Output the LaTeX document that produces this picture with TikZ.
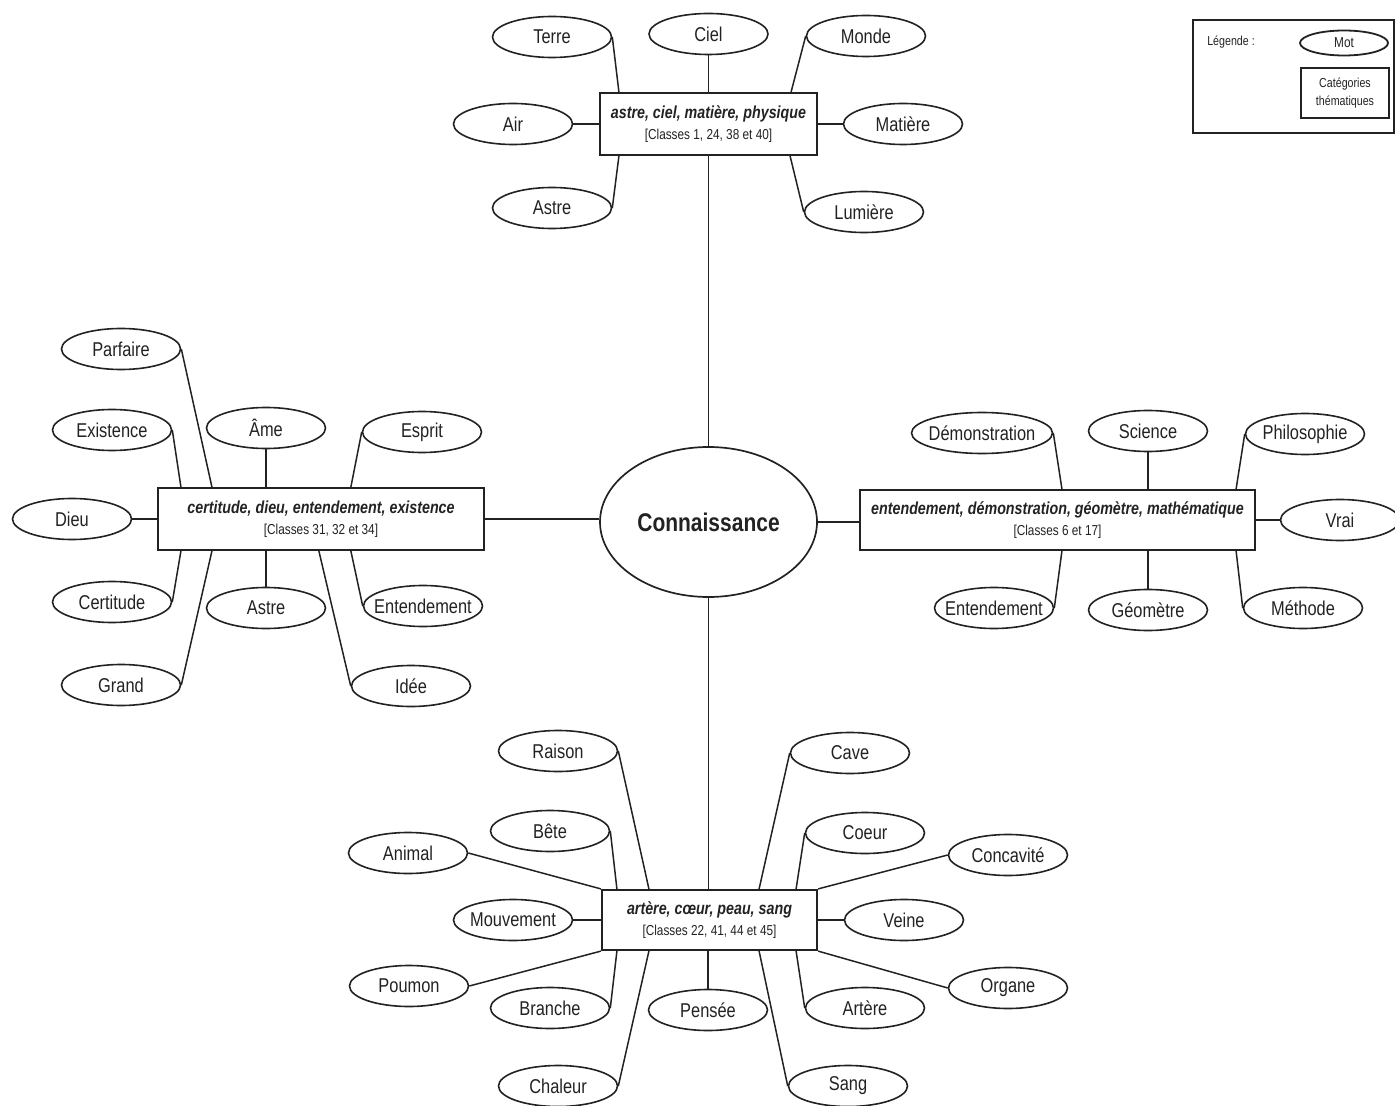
\documentclass[tikz,border=0pt]{standalone}
\usepackage{fontspec}
\setmainfont{Liberation Sans}[FakeStretch=0.82]
\usetikzlibrary{shapes.geometric,calc}
\definecolor{ink}{RGB}{34,34,34}
\newcommand\ctr[1]{\makebox[0pt]{#1}}
\newcommand\cl[1]{{\fontsize{7.2}{9}\selectfont\mdseries\upshape #1}}
\newcommand\kw[1]{{\bfseries\itshape #1}}
\begin{document}
\begin{tikzpicture}[x=0.5pt,y=-0.5pt,
  word/.style={draw=ink, ellipse, line width=0.8pt, minimum width=59.5pt, minimum height=20.5pt, inner sep=0pt, font=\fontsize{10}{12}\selectfont, text=ink},
  cat/.style={draw=ink, rectangle, line width=1.1pt, inner sep=0pt, align=center, font=\fontsize{8.7}{10.5}\selectfont, text=ink},
  link/.style={draw=ink, line width=0.75pt},
  legtext/.style={font=\fontsize{6.5}{9}\selectfont, text=ink, inner sep=0pt}
  ]
\useasboundingbox (0,0) rectangle (1395,1106);

% central
\node[draw=ink, ellipse, line width=0.85pt, minimum width=108.5pt, minimum height=75pt, inner sep=0pt,
      font=\fontsize{12.8}{14}\selectfont\bfseries, text=ink] (conn) at (708.5,522) {Connaissance};

% category boxes
\node[cat, minimum width=108.5pt, minimum height=31pt] (tb) at (708.5,124) {\kw{astre, ciel, matière, physique}\\\cl{[Classes 1, 24, 38 et 40]}};
\node[cat, minimum width=163pt, minimum height=31pt] (lb) at (321,519) {\kw{certitude, dieu, entendement, existence}\\\cl{[Classes 31, 32 et 34]}};
\node[cat, minimum width=197.5pt, minimum height=30pt] (rb) at (1057.5,520) {\kw{entendement, démonstration, géomètre, mathématique}\\\cl{[Classes 6 et 17]}};
\node[cat, minimum width=107.5pt, minimum height=30pt] (bb) at (709.5,920) {\kw{artère, cœur, peau, sang}\\\cl{[Classes 22, 41, 44 et 45]}};

% top words
\node[word] (terre) at (552,37) {\ctr{Terre}};
\node[word] (ciel) at (708.5,34) {\ctr{Ciel}};
\node[word] (monde) at (866,36) {\ctr{Monde}};
\node[word] (air) at (513,124) {\ctr{Air}};
\node[word] (matiere) at (903,124) {\ctr{Matière}};
\node[word] (astreT) at (552,208) {\ctr{Astre}};
\node[word] (lumiere) at (864,212) {\ctr{Lumière}};

% left words
\node[word] (parfaire) at (121,349) {\ctr{Parfaire}};
\node[word] (existence) at (112,430) {\ctr{Existence}};
\node[word] (ame) at (266,428) {\ctr{Âme}};
\node[word] (esprit) at (422,432) {\ctr{Esprit}};
\node[word] (dieu) at (72,519) {\ctr{Dieu}};
\node[word] (certitude) at (112,602) {\ctr{Certitude}};
\node[word] (astreL) at (266,608) {\ctr{Astre}};
\node[word] (entL) at (423,606) {\ctr{Entendement}};
\node[word] (grand) at (121,685) {\ctr{Grand}};
\node[word] (idee) at (411,686) {\ctr{Idée}};

% right words
\node[word, minimum width=70.5pt] (demo) at (982,433) {\ctr{Démonstration}};
\node[word] (science) at (1148,431) {\ctr{Science}};
\node[word] (philo) at (1305,434) {\ctr{Philosophie}};
\node[word] (vrai) at (1340,520) {\ctr{Vrai}};
\node[word] (entR) at (994,608) {\ctr{Entendement}};
\node[word] (geo) at (1148,610) {\ctr{Géomètre}};
\node[word] (methode) at (1303,608) {\ctr{Méthode}};

% bottom words
\node[word] (raison) at (558,751) {\ctr{Raison}};
\node[word] (bete) at (550,831) {\ctr{Bête}};
\node[word] (animal) at (408,853) {\ctr{Animal}};
\node[word] (mouv) at (513,920) {\ctr{Mouvement}};
\node[word] (poumon) at (409,986) {\ctr{Poumon}};
\node[word] (branche) at (550,1008) {\ctr{Branche}};
\node[word] (chaleur) at (558,1086) {\ctr{Chaleur}};
\node[word] (pensee) at (708,1010) {\ctr{Pensée}};
\node[word] (cave) at (850,753) {\ctr{Cave}};
\node[word] (coeur) at (865,833) {\ctr{Coeur}};
\node[word] (concav) at (1008,855) {\ctr{Concavité}};
\node[word] (veine) at (904,920) {\ctr{Veine}};
\node[word] (organe) at (1008,988) {\ctr{Organe}};
\node[word] (artere) at (865,1008) {\ctr{Artère}};
\node[word] (sang) at (848,1086) {\ctr{Sang}};

% legend
\node[draw=ink, line width=1.1pt, minimum width=100.5pt, minimum height=56.5pt, inner sep=0pt] (leg) at (1293.5,76.5) {};
\node[legtext] (legt) at (1231,42) {Légende :};
\node[draw=ink, ellipse, line width=0.9pt, minimum width=44pt, minimum height=12.5pt, legtext, font=\fontsize{7.2}{9}\selectfont] (legmot) at (1344,43) {Mot};
\node[draw=ink, line width=1pt, minimum width=44pt, minimum height=25pt, align=center, legtext] (legcat) at (1345,93) {Catégories\\thématiques};

% central connectors
\draw[link] (tb.south) -- (conn.north);
\draw[link] (conn.south) -- (conn.south |- bb.north);
\draw[link] (lb.east) -- (lb.east -| conn.west);
\draw[link] (conn.east) -- (conn.east -| rb.west);

% top connectors
\draw[link] (terre.east) -- ($(tb.north west)+(20,0)$);
\draw[link] (ciel.south) -- (tb.north);
\draw[link] (monde.west) -- ($(tb.north east)+(-27,0)$);
\draw[link] (air.east) -- (tb.west);
\draw[link] (tb.east) -- (matiere.west);
\draw[link] (astreT.east) -- ($(tb.south west)+(20,0)$);
\draw[link] (lumiere.west) -- ($(tb.south east)+(-28,0)$);

% left connectors
\draw[link] (parfaire.east) -- ($(lb.north west)+(55,0)$);
\draw[link] (existence.east) -- ($(lb.north west)+(24,0)$);
\draw[link] (ame.south) -- (ame.south |- lb.north);
\draw[link] (esprit.west) -- ($(lb.north west)+(194,0)$);
\draw[link] (dieu.east) -- (dieu.east -| lb.west);
\draw[link] (certitude.east) -- ($(lb.south west)+(24,0)$);
\draw[link] (grand.east) -- ($(lb.south west)+(55,0)$);
\draw[link] (astreL.north) -- (astreL.north |- lb.south);
\draw[link] (entL.west) -- ($(lb.south west)+(194,0)$);
\draw[link] (idee.west) -- ($(lb.south west)+(162,0)$);

% right connectors
\draw[link] (demo.east) -- ($(rb.north west)+(203,0)$);
\draw[link] (science.south) -- (science.south |- rb.north);
\draw[link] (philo.west) -- ($(rb.north east)+(-20,0)$);
\draw[link] (rb.east) -- (rb.east -| vrai.west);
\draw[link] (entR.east) -- ($(rb.south west)+(203,0)$);
\draw[link] (geo.north) -- (geo.north |- rb.south);
\draw[link] (methode.west) -- ($(rb.south east)+(-20,0)$);

% bottom connectors
\draw[link] (raison.east) -- ($(bb.north west)+(48,0)$);
\draw[link] (bete.east) -- ($(bb.north west)+(16,0)$);
\draw[link] (animal.east) -- (bb.north west);
\draw[link] (mouv.east) -- (bb.west);
\draw[link] (poumon.east) -- (bb.south west);
\draw[link] (branche.east) -- ($(bb.south west)+(16,0)$);
\draw[link] (chaleur.east) -- ($(bb.south west)+(48,0)$);
\draw[link] (pensee.north) -- (pensee.north |- bb.south);
\draw[link] (cave.west) -- ($(bb.north east)+(-59,0)$);
\draw[link] (coeur.west) -- ($(bb.north east)+(-22,0)$);
\draw[link] (concav.west) -- (bb.north east);
\draw[link] (bb.east) -- (veine.west);
\draw[link] (organe.west) -- (bb.south east);
\draw[link] (artere.west) -- ($(bb.south east)+(-22,0)$);
\draw[link] (sang.west) -- ($(bb.south east)+(-59,0)$);
\end{tikzpicture}
\end{document}
